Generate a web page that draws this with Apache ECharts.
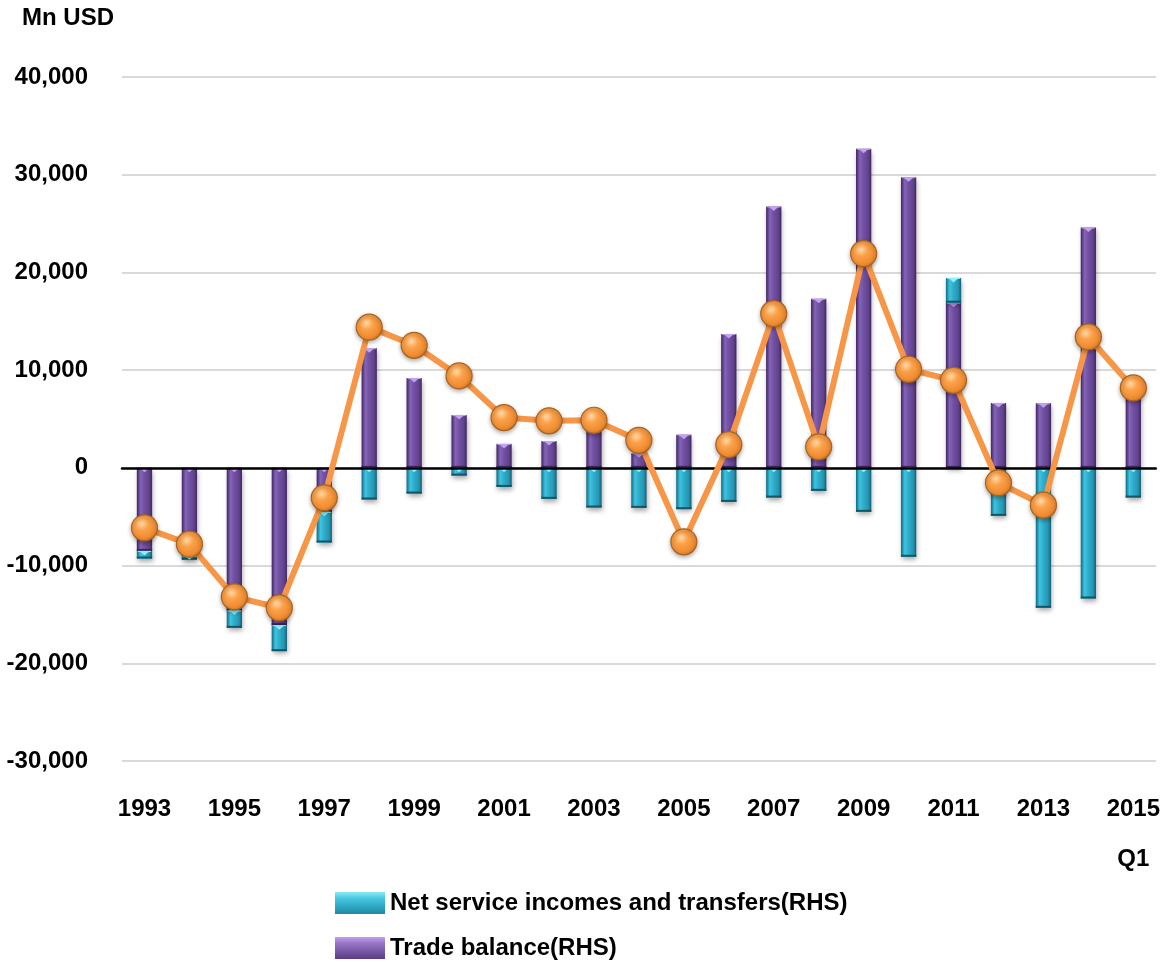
<!DOCTYPE html>
<html>
<head>
<meta charset="utf-8">
<script src="https://cdn.jsdelivr.net/npm/echarts@6/dist/echarts.min.js"></script>
<style>
  html, body { margin: 0; padding: 0; background: #ffffff; }
  #chart { width: 1163px; height: 965px; }
</style>
</head>
<body>
<div id="chart"></div>
<script>
// Balance of payments components, Mn USD
const years = ['1993','1994','1995','1996','1997','1998','1999','2000','2001','2002','2003','2004',
               '2005','2006','2007','2008','2009','2010','2011','2012','2013','2014','2015'];

const tradeBalance = [-8500, -9000, -14600, -16100, -4500, 12250, 9200, 5400, 2450, 2750, 3900, 1500,
                      3400, 13700, 26750, 17300, 32650, 29750, 16900, 6650, 6600, 24600, 7800];

const netServices = [-780, -400, -1770, -2660, -3140, -3240, -2630, -790, -1950, -3170, -4060, -4090,
                     -4230, -3480, -3040, -2350, -4500, -9100, 2540, -4910, -14320, -13370, -3040];

const currentAccount = [-6140, -7810, -13200, -14320, -3070, 14400, 12540, 9410, 5150, 4810, 4870, 2820,
                        -7570, 2380, 15780, 2150, 21920, 10090, 8960, -1530, -3820, 13400, 8180];

const yTicks = { min: -30000, max: 40000, step: 10000 };

const SERIES_TRADE = 'Trade balance(RHS)';
const SERIES_SERV = 'Net service incomes and transfers(RHS)';

// stacked segments [index, start, end]; same-sign values stack on top of trade balance
const tradeSegments = tradeBalance.map((v, i) => [i, 0, v]);
const serviceSegments = netServices.map((v, i) => {
  const base = ((v >= 0) === (tradeBalance[i] >= 0)) ? tradeBalance[i] : 0;
  return [i, base, base + v];
});

const purple = {
  body: [[0, '#3f2760'], [0.1, '#5c3d86'], [0.25, '#8464b6'], [0.5, '#7150a2'], [0.8, '#62438e'], [1, '#41285f']],
  light: '#c0a2ee', dark: '#3a2358', legend: [[0, '#c2a0ee'], [0.3, '#9574c6'], [1, '#5a3c82']]
};
const cyan = {
  body: [[0, '#136a80'], [0.1, '#1f8fab'], [0.25, '#3fc3df'], [0.5, '#2eacca'], [0.8, '#2596b3'], [1, '#135f74']],
  light: '#8ff0fc', dark: '#115668', legend: [[0, '#8aeaf8'], [0.3, '#45c6e0'], [1, '#1c8aa4']]
};

function barRenderer(pal) {
  return function (params, api) {
    const i = api.value(0);
    const pA = api.coord([i, api.value(1)]);
    const pB = api.coord([i, api.value(2)]);
    const w = api.size([1, 0])[0] * 0.34;
    const x = pA[0] - w / 2;
    const top = Math.min(pA[1], pB[1]);
    const bot = Math.max(pA[1], pB[1]);
    const h = bot - top;
    if (h <= 0) return null;
    const cap = Math.min(4.5, h);
    const foot = Math.min(2, h);
    return {
      type: 'group',
      children: [
        {
          type: 'rect',
          shape: { x: x, y: top, width: w, height: h },
          style: {
            fill: new echarts.graphic.LinearGradient(0, 0, 1, 0, pal.body.map(s => ({ offset: s[0], color: s[1] }))),
            shadowBlur: 5, shadowOffsetX: 1, shadowOffsetY: 3, shadowColor: 'rgba(0,0,0,0.35)'
          }
        },
        {
          type: 'rect',
          shape: { x: x, y: bot - foot, width: w, height: foot },
          style: { fill: pal.dark }
        },
        {
          type: 'rect',
          shape: { x: x + 1, y: top, width: w - 2, height: Math.min(1, h) },
          style: { fill: pal.light }
        },
        {
          type: 'polygon',
          shape: { points: [[x + 2.5, top], [x + w - 2.5, top], [x + w / 2, top + cap]] },
          style: { fill: pal.light }
        }
      ]
    };
  };
}

const fmt = v => v.toLocaleString('en-US');

const legendBase = {
  orient: 'vertical', left: 330,
  itemWidth: 50, itemHeight: 22,
  textStyle: { fontSize: 24, fontWeight: 'bold', color: '#000' }
};

const chart = echarts.init(document.getElementById('chart'), null, { renderer: 'canvas' });

chart.setOption({
  backgroundColor: '#ffffff',
  animation: false,
  textStyle: { fontFamily: '"Liberation Sans", Arial, sans-serif' },
  graphic: [{
    type: 'text', left: 22, top: 6,
    style: { text: 'Mn USD', font: 'bold 24px "Liberation Sans", Arial, sans-serif', fill: '#000' }
  }],
  grid: { left: 122, right: 6, top: 77, bottom: 204 },
  legend: [
    Object.assign({}, legendBase, {
      top: 886,
      data: [{ name: SERIES_SERV, icon: 'rect',
        itemStyle: { color: new echarts.graphic.LinearGradient(0, 0, 0, 1, cyan.legend.map(s => ({ offset: s[0], color: s[1] }))) } }]
    }),
    Object.assign({}, legendBase, {
      top: 931,
      data: [{ name: SERIES_TRADE, icon: 'rect',
        itemStyle: { color: new echarts.graphic.LinearGradient(0, 0, 0, 1, purple.legend.map(s => ({ offset: s[0], color: s[1] }))) } }]
    })
  ],
  xAxis: [
    {
      type: 'category', data: years, position: 'bottom',
      axisLine: { show: false, onZero: false }, axisTick: { show: false },
      axisLabel: {
        interval: 1, margin: 36, fontSize: 24, fontWeight: 'bold', color: '#000', lineHeight: 25,
        formatter: v => v === '2015' ? '2015\n\nQ1' : v
      }
    },
    {
      type: 'category', data: years, position: 'bottom', z: 4,
      axisLine: { show: true, onZero: true, lineStyle: { color: '#000', width: 2.5 } },
      axisTick: { show: false }, axisLabel: { show: false }
    }
  ],
  yAxis: {
    type: 'value', min: yTicks.min, max: yTicks.max, interval: yTicks.step,
    axisLine: { show: false }, axisTick: { show: false },
    axisLabel: { margin: 34, fontSize: 24, fontWeight: 'bold', color: '#000', formatter: fmt },
    splitLine: { lineStyle: { color: '#d9d9d9', width: 2 } }
  },
  series: [
    {
      name: SERIES_TRADE, type: 'custom', xAxisIndex: 0, z: 2,
      itemStyle: { color: '#6a4894' },
      encode: { x: 0, y: [1, 2] },
      renderItem: barRenderer(purple),
      data: tradeSegments
    },
    {
      name: SERIES_SERV, type: 'custom', xAxisIndex: 0, z: 2,
      itemStyle: { color: '#2aa6c3' },
      encode: { x: 0, y: [1, 2] },
      renderItem: barRenderer(cyan),
      data: serviceSegments
    },
    {
      name: 'Current account', type: 'line', xAxisIndex: 0, z: 10,
      data: currentAccount,
      symbol: 'circle', symbolSize: 26,
      lineStyle: { color: '#f79646', width: 6 },
      itemStyle: {
        color: new echarts.graphic.RadialGradient(0.4, 0.35, 0.7, [
          { offset: 0, color: '#ffd9a6' },
          { offset: 0.35, color: '#fba14a' },
          { offset: 0.8, color: '#ee8a2e' },
          { offset: 1, color: '#c8711f' }
        ]),
        borderColor: '#a9621f', borderWidth: 1.2,
        shadowBlur: 4, shadowOffsetY: 2, shadowColor: 'rgba(0,0,0,0.3)'
      }
    }
  ]
});
</script>
</body>
</html>
